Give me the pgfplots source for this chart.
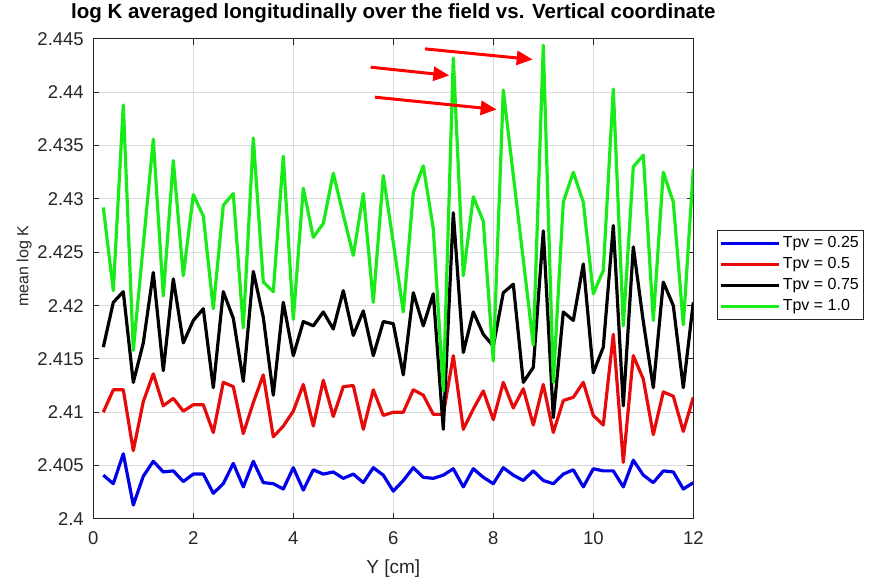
\documentclass[border=0pt]{standalone}
\usepackage{fontspec}
\setmainfont{Liberation Sans}
\usepackage{pgfplots}
\usepackage{pgfplotstable}
\pgfplotsset{compat=1.18}
\usetikzlibrary{arrows.meta}
\definecolor{mblue}{RGB}{0,0,235}
\definecolor{mred}{RGB}{230,10,10}
\definecolor{mgreen}{RGB}{25,235,25}
\definecolor{axgray}{RGB}{38,38,38}

\pgfplotstableread{
x blue red black green
0.2 2.4041 2.4100 2.4161 2.4292
0.4 2.4033 2.4121 2.4203 2.4214
0.6 2.4061 2.4121 2.4213 2.4388
0.8 2.4013 2.4064 2.4128 2.4158
1.0 2.4040 2.4110 2.4165 2.4257
1.2 2.4054 2.4136 2.4231 2.4356
1.4 2.4044 2.4106 2.4139 2.4209
1.6 2.4045 2.4113 2.4225 2.4336
1.8 2.4035 2.4101 2.4165 2.4228
2.0 2.4042 2.4107 2.4186 2.4304
2.2 2.4042 2.4107 2.4197 2.4284
2.4 2.4024 2.4081 2.4123 2.4197
2.6 2.4033 2.4128 2.4213 2.4294
2.8 2.4052 2.4124 2.4188 2.4305
3.0 2.4030 2.4080 2.4129 2.4179
3.2 2.4054 2.4109 2.4232 2.4357
3.4 2.4034 2.4135 2.4189 2.4222
3.6 2.4033 2.4077 2.4116 2.4213
3.8 2.4028 2.4087 2.4203 2.4340
4.0 2.4048 2.4101 2.4153 2.4187
4.2 2.4027 2.4126 2.4185 2.4310
4.4 2.4046 2.4087 2.4181 2.4264
4.6 2.4042 2.4130 2.4194 2.4277
4.8 2.4044 2.4096 2.4178 2.4324
5.0 2.4038 2.4124 2.4214 2.4285
5.2 2.4042 2.4125 2.4172 2.4247
5.4 2.4034 2.4084 2.4195 2.4305
5.6 2.4048 2.4121 2.4153 2.4203
5.8 2.4041 2.4097 2.4185 2.4322
6.0 2.4026 2.4100 2.4183 2.4259
6.2 2.4036 2.4100 2.4135 2.4194
6.4 2.4048 2.4121 2.4212 2.4306
6.6 2.4039 2.4116 2.4181 2.4331
6.8 2.4038 2.4098 2.4211 2.4272
7.0 2.4041 2.4098 2.4084 2.4120
7.2 2.4047 2.4153 2.4287 2.4432
7.4 2.4030 2.4084 2.4156 2.4228
7.6 2.4047 2.4103 2.4194 2.4302
7.8 2.4039 2.4120 2.4173 2.4279
8.0 2.4033 2.4093 2.4162 2.4148
8.2 2.4048 2.4128 2.4212 2.4402
8.4 2.4041 2.4104 2.4220 2.4322
8.6 2.4036 2.4122 2.4128 2.4243
8.8 2.4045 2.4088 2.4142 2.4163
9.0 2.4036 2.4126 2.4270 2.4444
9.2 2.4033 2.4081 2.4095 2.4128
9.4 2.4042 2.4111 2.4194 2.4297
9.6 2.4046 2.4114 2.4186 2.4325
9.8 2.4030 2.4128 2.4239 2.4297
10.0 2.4047 2.4097 2.4137 2.4211
10.2 2.4045 2.4088 2.4161 2.4233
10.4 2.4045 2.4173 2.4275 2.4403
10.6 2.4030 2.4053 2.4106 2.4181
10.8 2.4055 2.4153 2.4255 2.4330
11.0 2.4041 2.4131 2.4185 2.4341
11.2 2.4034 2.4079 2.4123 2.4186
11.4 2.4045 2.4119 2.4222 2.4325
11.6 2.4044 2.4115 2.4200 2.4297
11.8 2.4028 2.4082 2.4123 2.4182
12.0 2.4034 2.4114 2.4203 2.4328
}\datatable

\begin{document}
\begin{tikzpicture}
\path (0pt,0pt) rectangle (870pt,579pt);
\begin{axis}[
  at={(93.3pt,62.3pt)}, anchor=south west,
  width=600pt, height=480pt, scale only axis,
  xmin=0, xmax=12, ymin=2.4, ymax=2.445,
  xtick={0,2,4,6,8,10,12},
  xticklabels={0,2,4,6,8,10,12},
  ytick={2.4,2.405,2.41,2.415,2.42,2.425,2.43,2.435,2.44,2.445},
  yticklabels={2.4,2.405,2.41,2.415,2.42,2.425,2.43,2.435,2.44,2.445},
  tick label style={font=\fontsize{18.5}{20}\selectfont, text=axgray},
  xticklabel style={yshift=-9pt},
  yticklabel style={xshift=-6pt},
  tick align=inside, tick pos=both,
  major tick length=6pt,
  every tick/.style={axgray, line width=0.8pt},
  axis line style={axgray, line width=0.8pt},
  grid=major,
  major grid style={color=black!14, line width=0.8pt},
  title={log K averaged longitudinally over the field vs. Vertical coordinate},
  title style={font=\fontsize{20.5}{24}\bfseries\selectfont, at={(0.5,1)}, anchor=base, yshift=14.7pt},
  xlabel={Y [cm]},
  xlabel style={font=\fontsize{19}{22}\selectfont, text=axgray, at={(axis description cs:0.5,0)}, anchor=base, yshift=-55pt},
  ylabel={mean log K},
  ylabel style={font=\fontsize{16}{20}\selectfont, text=axgray, at={(axis description cs:0,0.526)}, anchor=base, rotate=0, yshift=65pt},
  legend style={at={(1,0.5)}, anchor=west, xshift=24pt, yshift=4pt,
    draw=axgray, line width=0.6pt, font=\fontsize{16}{18}\selectfont,
    inner xsep=2pt, inner ysep=3pt, row sep=1pt,
    nodes={inner sep=2pt, text height=12pt, text depth=4pt}},
  legend cell align=left,
  legend image code/.code={\draw[#1] (0pt,0pt) -- (58pt,0pt);},
  every axis plot/.append style={line width=3.2pt, line join=round},
]
\addplot[mblue] table[x=x, y=blue] {\datatable};
\addplot[mred] table[x=x, y=red] {\datatable};
\addplot[black] table[x=x, y=black] {\datatable};
\addplot[mgreen] table[x=x, y=green] {\datatable};
\legend{Tpv = 0.25, Tpv = 0.5, Tpv = 0.75, Tpv = 1.0}
\end{axis}
\draw[red, line width=3pt, -{Triangle[length=16pt,width=14pt]}] (425pt,532.3pt) -- (532.7pt,521.7pt);
\draw[red, line width=3pt, -{Triangle[length=16pt,width=14pt]}] (370.7pt,514pt) -- (449.3pt,505.7pt);
\draw[red, line width=3pt, -{Triangle[length=16pt,width=14pt]}] (375pt,484pt) -- (496.7pt,471.7pt);
\end{tikzpicture}
\end{document}
